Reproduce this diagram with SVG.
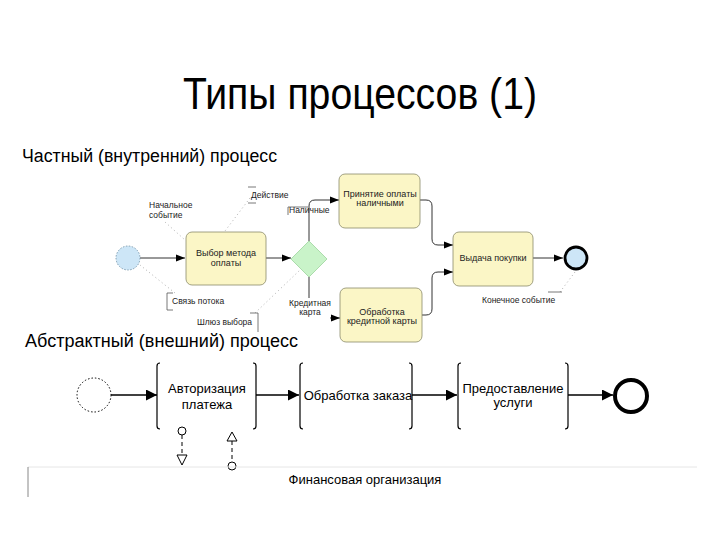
<svg xmlns="http://www.w3.org/2000/svg" width="720" height="540" viewBox="0 0 720 540">
<defs>
<style>
text{font-family:"Liberation Sans",Arial,sans-serif;fill:#000}
.title{font-size:44px}
.sub{font-size:18px}
.lbl{font-size:8.5px;fill:#222}
.tt{font-size:9px;text-anchor:middle;fill:#222}
.bt{font-size:13px;text-anchor:middle}
.task{fill:#fbf6c6;stroke:#8a8a6a;stroke-width:0.8}
.flow{fill:none;stroke:#333;stroke-width:1}
.flow2{fill:none;stroke:#000;stroke-width:1.4}
.ann{fill:none;stroke:#555;stroke-width:0.8}
.dot{fill:none;stroke:#999;stroke-width:0.8;stroke-dasharray:1 3}
.br{fill:none;stroke:#000;stroke-width:1.2}
.msg{fill:none;stroke:#000;stroke-width:1;stroke-dasharray:4 3}
</style>
<marker id="a1" viewBox="0 0 10 10" refX="10" refY="5" markerWidth="9" markerHeight="9" markerUnits="userSpaceOnUse" orient="auto"><path d="M0 1 L10 5 L0 9 Z" fill="#000"/></marker>
<marker id="a2" viewBox="0 0 10 10" refX="10" refY="5" markerWidth="11" markerHeight="11" markerUnits="userSpaceOnUse" orient="auto"><path d="M0 0 L10 5 L0 10 Z" fill="#000"/></marker>
</defs>
<rect width="720" height="540" fill="#fff"/>

<text class="title" x="183" y="109" textLength="354" lengthAdjust="spacingAndGlyphs">Типы процессов (1)</text>
<text class="sub" x="22" y="162" textLength="255" lengthAdjust="spacingAndGlyphs">Частный (внутренний) процесс</text>
<text class="sub" x="25" y="347" textLength="273" lengthAdjust="spacingAndGlyphs">Абстрактный (внешний) процесс</text>

<!-- top diagram connectors -->
<g id="connectors-top">
<line class="flow" x1="140" y1="258" x2="185" y2="258" marker-end="url(#a1)"/>
<line class="flow" x1="266" y1="258" x2="291" y2="258" marker-end="url(#a1)"/>
<path class="flow" d="M309 241 V206 Q309 200 315 200 H339" marker-end="url(#a1)"/>
<line class="flow" x1="309" y1="277" x2="309" y2="298" stroke="#777"/>
<line class="flow" x1="330" y1="318" x2="340" y2="318" marker-end="url(#a1)"/>
<path class="flow" d="M420 200 H426 Q432 200 432 206 V239 Q432 245 438 245 H453" marker-end="url(#a1)"/>
<path class="flow" d="M422 315 H426 Q432 315 432 309 V278 Q432 272 438 272 H453" marker-end="url(#a1)"/>
<line class="flow" x1="533" y1="258" x2="563" y2="258" marker-end="url(#a1)"/>
<line class="dot" x1="250" y1="198" x2="225" y2="231"/>
<line class="dot" x1="165" y1="222" x2="185" y2="240"/>
<line class="dot" x1="175" y1="293" x2="140" y2="265"/>
<line class="dot" x1="255" y1="313" x2="300" y2="270"/>
<line class="dot" x1="560" y1="292" x2="575" y2="272"/>
</g>

<g id="start-top"><circle cx="128" cy="258" r="12" fill="#cde6f7" stroke="#6a8aa0" stroke-width="0.8" stroke-dasharray="1.5 1.5"/></g>
<g id="task-choose"><rect class="task" x="186" y="232" width="80" height="53" rx="6"/><text class="tt" x="226" y="256">Выбор метода</text><text class="tt" x="226" y="266">оплаты</text></g>
<g id="gateway"><path d="M309 241 L327 259 L309 277 L291 259 Z" fill="#c9f3c9" stroke="#9cd49c" stroke-width="0.8"/></g>
<g id="task-cash"><rect class="task" x="339" y="174" width="81" height="54" rx="6"/><text class="tt" x="380" y="197">Принятие оплаты</text><text class="tt" x="380" y="206">наличными</text></g>
<g id="task-card"><rect class="task" x="340" y="288" width="82" height="54" rx="6"/><text class="tt" x="382" y="315">Обработка</text><text class="tt" x="382" y="324">кредитной карты</text></g>
<g id="task-issue"><rect class="task" x="453" y="232" width="80" height="54" rx="6"/><text class="tt" x="493" y="261">Выдача покупки</text></g>
<g id="end-top"><circle cx="576" cy="258" r="11" fill="#cde6f7" stroke="#000" stroke-width="2.8"/></g>

<g id="labels-top">
<text class="lbl" x="149" y="208">Начальное</text>
<text class="lbl" x="149" y="218">событие</text>
<path class="ann" d="M256 187 H248 M248 203 H256" stroke="#888"/>
<text class="lbl" x="251" y="198">Действие</text>
<path class="ann" d="M308 207 H288 V215" stroke="#aaa"/>
<text class="lbl" x="289" y="213">Наличные</text>
<path class="ann" d="M173 293 H167 V310 H173"/>
<text class="lbl" x="172" y="304">Связь потока</text>
<path class="ann" d="M250 313 H258 V332"/>
<text class="lbl" x="197" y="325">Шлюз выбора</text>
<text class="lbl" x="310" y="306" text-anchor="middle">Кредитная</text>
<text class="lbl" x="310" y="315" text-anchor="middle">карта</text>
<line class="ann" x1="548" y1="292" x2="562" y2="292"/>
<text class="lbl" x="482" y="303">Конечное событие</text>
</g>

<!-- bottom diagram -->
<g id="connectors-bottom">
<line class="flow2" x1="111" y1="395" x2="157" y2="395" marker-end="url(#a2)"/>
<line class="flow2" x1="256" y1="395" x2="299" y2="395" marker-end="url(#a2)"/>
<line class="flow2" x1="412" y1="395" x2="457" y2="395" marker-end="url(#a2)"/>
<line class="flow2" x1="568" y1="395" x2="613" y2="395" marker-end="url(#a2)"/>
</g>
<g id="start-bottom"><circle cx="94" cy="395" r="17" fill="none" stroke="#000" stroke-width="1" stroke-dasharray="1.5 2"/></g>
<g id="act-auth">
<path class="br" d="M160 363 Q157 363 157 366 V426 Q157 429 160 429"/>
<path class="br" d="M253 363 Q256 363 256 366 V426 Q256 429 253 429"/>
<text class="bt" x="207" y="393">Авторизация</text><text class="bt" x="207" y="409">платежа</text>
</g>
<g id="act-order">
<path class="br" d="M303 363 Q300 363 300 366 V426 Q300 429 303 429"/>
<path class="br" d="M409 363 Q412 363 412 366 V426 Q412 429 409 429"/>
<text class="bt" x="358" y="400">Обработка заказа</text>
</g>
<g id="act-service">
<path class="br" d="M461 363 Q458 363 458 366 V426 Q458 429 461 429"/>
<path class="br" d="M565 363 Q568 363 568 366 V426 Q568 429 565 429"/>
<text class="bt" x="513" y="393">Предоставление</text><text class="bt" x="513" y="407">услуги</text>
</g>
<g id="end-bottom"><circle cx="631" cy="396" r="16" fill="none" stroke="#000" stroke-width="4"/></g>
<g id="msg-out">
<circle cx="182" cy="431" r="4" fill="#fff" stroke="#000" stroke-width="1"/>
<line class="msg" x1="182" y1="435" x2="182" y2="455"/>
<path d="M177 455 L187 455 L182 465 Z" fill="#fff" stroke="#000" stroke-width="1"/>
</g>
<g id="msg-in">
<path d="M232 432 L237 441 L227 441 Z" fill="#fff" stroke="#000" stroke-width="1"/>
<line class="msg" x1="232" y1="441" x2="232" y2="462"/>
<circle cx="232" cy="466" r="4" fill="#fff" stroke="#000" stroke-width="1"/>
</g>
<g id="pool">
<line x1="28" y1="467" x2="697" y2="467" stroke="#e6e6e6" stroke-width="1"/>
<line x1="28" y1="467" x2="28" y2="497" stroke="#888" stroke-width="1"/>
<text x="365" y="484" font-size="13" text-anchor="middle">Финансовая организация</text>
</g>
</svg>
